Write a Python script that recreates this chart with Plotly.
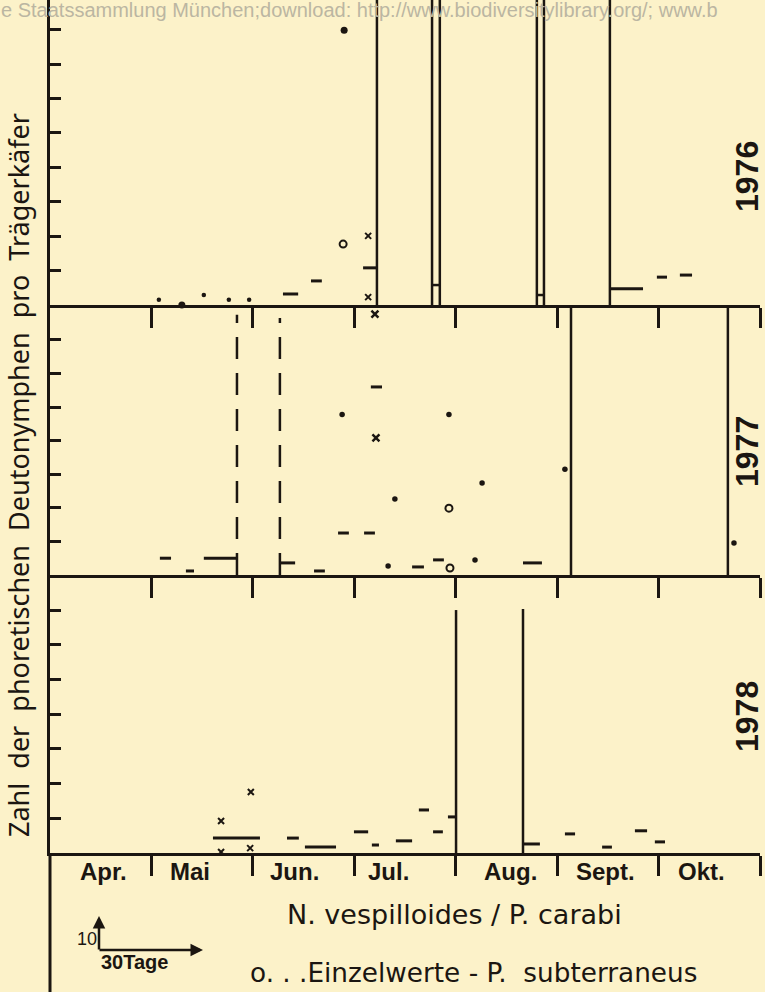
import plotly.graph_objects as go

# ---------------- data (x = days since 1 April, months of 30 days; y = Deutonymphen pro Käfer) -------------
months = ["Apr.", "Mai", "Jun.", "Jul.", "Aug.", "Sept.", "Okt."]
month_label_x = [15.7, 41.4, 72.4, 100.0, 136.3, 164.4, 192.8]
month_bounds = [30, 60, 90, 120, 150, 180, 210]
years = ["1976", "1977", "1978"]

# 1976
m76_x0 = [68.9, 77.2, 92.6, 165.6, 179.5, 186.3]
m76_x1 = [73.4, 80.4, 96.7, 175.4, 182.5, 189.9]
m76_v = [3.2, 7.0, 10.8, 4.7, 8.1, 8.7]
tall76_x = [96.7, 165.6]
pair76_x0 = [113.0, 144.0]
pair76_x1 = [115.3, 146.1]
pair76_v = [5.8, 2.9]
dot76_x = [32.2, 45.5, 52.9, 58.9]
dot76_v = [1.5, 2.9, 1.5, 1.5]
bigdot76_x = [39.0, 87.0]
bigdot76_v = [0.0, 79.9]
circ76_x = [86.7]
circ76_v = [17.7]
cross76_x = [94.1, 94.1]
cross76_v = [20.1, 2.3]

# 1977
m77_x0 = [32.5, 40.2, 45.5, 68.0, 78.1, 85.2, 92.9, 94.9, 107.1, 113.3, 139.9]
m77_x1 = [35.8, 42.6, 55.3, 72.5, 81.3, 88.4, 96.1, 98.2, 110.6, 116.5, 145.5]
m77_v = [5.0, 1.2, 5.0, 3.6, 1.2, 12.5, 12.5, 56.0, 2.4, 4.5, 3.6]
dash77_x = [55.3, 68.0]
dash77_top = [77.5, 76.5]
tall77_x = [154.1, 200.5]
dot77_x = [86.4, 118.0, 102.0, 127.8, 152.3, 100.0, 125.7, 202.3]
dot77_v = [47.8, 47.8, 22.6, 27.4, 31.5, 2.7, 4.5, 9.5]
circ77_x = [118.0, 118.3]
circ77_v = [19.9, 2.1]
cross77_x = [96.4, 96.1]
cross77_v = [40.8, 77.7]

# 1978
m78_x0 = [48.2, 70.1, 75.4, 89.9, 95.2, 102.3, 109.1, 113.3, 117.7, 139.9, 152.3, 163.3, 173.0, 178.9]
m78_x1 = [62.1, 73.6, 84.6, 94.1, 97.3, 107.1, 112.1, 116.2, 120.1, 144.9, 155.3, 166.2, 176.6, 181.9]
m78_v = [4.3, 4.3, 1.7, 6.1, 2.3, 3.5, 12.4, 6.1, 10.4, 2.6, 5.5, 1.7, 6.4, 3.2]
tall78_x = [120.1, 139.9]
tall78_top = [70.0, 70.3]
cross78_x = [50.6, 59.4, 50.6, 59.2]
cross78_v = [9.2, 17.6, 0.3, 1.4]

y_ranges = [88.66, 80.4, 80.1]
y_ticks = [[10, 20, 30, 40, 50, 60, 70, 80], [10, 20, 30, 40, 50, 60, 70], [10, 20, 30, 40, 50, 60, 70]]

# ---------------- styling ----------------
INK = "#1b1611"
BG = "#fcf2c9"
W, H = 765, 992
def px(x):
    return x / W
def py(y):
    return 1 - y / H

fig = go.Figure()

def segs(x0s, x1s, vs):
    xs, ys = [], []
    for a, b, v in zip(x0s, x1s, vs):
        xs += [a, b, None]
        ys += [v, v, None]
    return xs, ys

def verts(xs_, tops, bottom=0):
    xs, ys = [], []
    for a, t in zip(xs_, tops):
        xs += [a, a, None]
        ys += [bottom, t, None]
    return xs, ys

def add_line(xs, ys, ax, width=3, dash=None):
    fig.add_trace(go.Scatter(x=xs, y=ys, xaxis=ax[0], yaxis=ax[1], mode="lines",
                             line=dict(color=INK, width=width, dash=dash),
                             hoverinfo="skip", showlegend=False))

def add_marks(xs, ys, ax, symbol, size, lw=0):
    fig.add_trace(go.Scatter(x=xs, y=ys, xaxis=ax[0], yaxis=ax[1], mode="markers",
                             marker=dict(symbol=symbol, size=size, color=INK,
                                         line=dict(color=INK, width=lw)),
                             cliponaxis=False, hoverinfo="skip", showlegend=False))

A76, A77, A78 = ("x", "y"), ("x2", "y2"), ("x3", "y3")

# 1976
add_line(*segs(m76_x0, m76_x1, m76_v), A76, 3)
add_line(*verts(tall76_x, [300] * len(tall76_x)), A76, 2.5)
add_line(*verts(pair76_x0, [300] * len(pair76_x0)), A76, 2.5)
add_line(*verts(pair76_x1, [300] * len(pair76_x1)), A76, 2.5)
add_line(*segs(pair76_x0, pair76_x1, pair76_v), A76, 2.5)
add_marks(dot76_x, dot76_v, A76, "circle", 4.5)
add_marks(bigdot76_x, bigdot76_v, A76, "circle", 7)
add_marks(circ76_x, circ76_v, A76, "circle-open", 7, 2)
add_marks(cross76_x, cross76_v, A76, "x-thin", 6, 2)

# 1977
add_line(*segs(m77_x0, m77_x1, m77_v), A77, 3)
add_line(*verts(dash77_x, dash77_top), A77, 2.5, "22px,14px")
add_line(*verts(tall77_x, [300] * len(tall77_x)), A77, 2.5)
add_marks(dot77_x, dot77_v, A77, "circle", 5.5)
add_marks(circ77_x, circ77_v, A77, "circle-open", 7, 2)
add_marks(cross77_x, cross77_v, A77, "x-thin", 7, 2.5)

# 1978
add_line(*segs(m78_x0, m78_x1, m78_v), A78, 3)
add_line(*verts(tall78_x, tall78_top), A78, 2.5)
add_marks(cross78_x, cross78_v, A78, "x-thin", 6, 2)

x_dom = [px(50), px(760)]
bases = [305, 575, 853]
tops = [0, 305, 575]

layout = dict(width=W, height=H, margin=dict(l=0, r=0, t=0, b=0),
              paper_bgcolor=BG, plot_bgcolor="rgba(0,0,0,0)", showlegend=False)

for i, (xa, ya) in enumerate([A76, A77, A78]):
    xk = "xaxis" if i == 0 else f"xaxis{i+1}"
    yk = "yaxis" if i == 0 else f"yaxis{i+1}"
    layout[xk] = dict(domain=x_dom, range=[0, 210], anchor=ya, showgrid=False, zeroline=False,
                      showline=True, linecolor=INK, linewidth=2.5,
                      ticks="outside", ticklen=20, tickwidth=2.5, tickcolor=INK,
                      tickvals=month_bounds, showticklabels=False, fixedrange=True)
    layout[yk] = dict(domain=[py(bases[i]), py(tops[i])], range=[0, y_ranges[i]], anchor=xa,
                      showgrid=False, zeroline=False, showline=True, linecolor=INK, linewidth=3,
                      ticks="inside", ticklen=11, tickwidth=2.5, tickcolor=INK,
                      tickvals=y_ticks[i], showticklabels=False, fixedrange=True)

fig.update_layout(**layout)

ann = []
# month labels
for m, xm in zip(months, month_label_x):
    ann.append(dict(x=xm, y=py(871), xref="x3", yref="paper", text=m, showarrow=False,
                    font=dict(family="Liberation Sans", size=24, color=INK, weight="bold"),
                    xanchor="center", yanchor="middle"))
# year labels
for yr, yy in zip(years, [177, 452, 717]):
    ann.append(dict(x=px(747), y=py(yy), xref="paper", yref="paper", text=yr, textangle=-90,
                    showarrow=False, font=dict(family="Liberation Sans", size=32, color=INK, weight="bold"),
                    xanchor="center", yanchor="middle"))
# y title
NB = "\u00a0"
ytitle = f"Zahl{NB} der{NB} phoretischen{NB} Deutonymphen{NB} pro{NB} Trägerkäfer"
ann.append(dict(x=px(19), y=py(475), xref="paper", yref="paper", text=ytitle, textangle=-90,
                showarrow=False, font=dict(family="Noto Sans", size=27, color=INK),
                xanchor="center", yanchor="middle"))
# legend texts
ann.append(dict(x=px(285), y=py(914), xref="paper", yref="paper", text="N. vespilloides / P. carabi",
                showarrow=False, font=dict(family="DejaVu Sans", size=27, color=INK),
                xanchor="left", yanchor="middle"))
ann.append(dict(x=px(248), y=py(973), xref="paper", yref="paper",
                text="o. . .Einzelwerte - P.  subterraneus",
                showarrow=False, font=dict(family="DejaVu Sans", size=26.3, color=INK),
                xanchor="left", yanchor="middle"))
# scale bar
ann.append(dict(x=px(99), y=py(916), xref="paper", yref="paper", ax=0, ay=35, axref="pixel", ayref="pixel",
                text="", showarrow=True, arrowhead=2, arrowsize=1, arrowwidth=2.5, arrowcolor=INK))
ann.append(dict(x=px(203), y=py(950), xref="paper", yref="paper", ax=-105, ay=0, axref="pixel", ayref="pixel",
                text="", showarrow=True, arrowhead=2, arrowsize=1, arrowwidth=2.5, arrowcolor=INK))
ann.append(dict(x=px(87), y=py(939), xref="paper", yref="paper", text="10", showarrow=False,
                font=dict(family="Liberation Sans", size=18, color=INK), xanchor="center", yanchor="middle"))
ann.append(dict(x=px(99), y=py(962), xref="paper", yref="paper", text="30Tage", showarrow=False,
                font=dict(family="Liberation Sans", size=20, color=INK, weight="bold"),
                xanchor="left", yanchor="middle"))
# watermark
ann.append(dict(x=px(-1), y=py(10), xref="paper", yref="paper",
                text="e Staatssammlung München;download: http://www.biodiversitylibrary.org/; www.b",
                showarrow=False, font=dict(family="Liberation Sans", size=20, color="#bbb6a2"),
                xanchor="left", yanchor="middle"))

fig.update_layout(annotations=ann,
                  shapes=[dict(type="line", xref="paper", yref="paper", x0=px(50), x1=px(50),
                               y0=0, y1=py(853), line=dict(color=INK, width=3))])

fig.write_html("out.html", config={"displayModeBar": False},
               post_script=f"document.body.style.margin='0';document.body.style.padding='0';"
                           f"document.body.style.background='{BG}';")
